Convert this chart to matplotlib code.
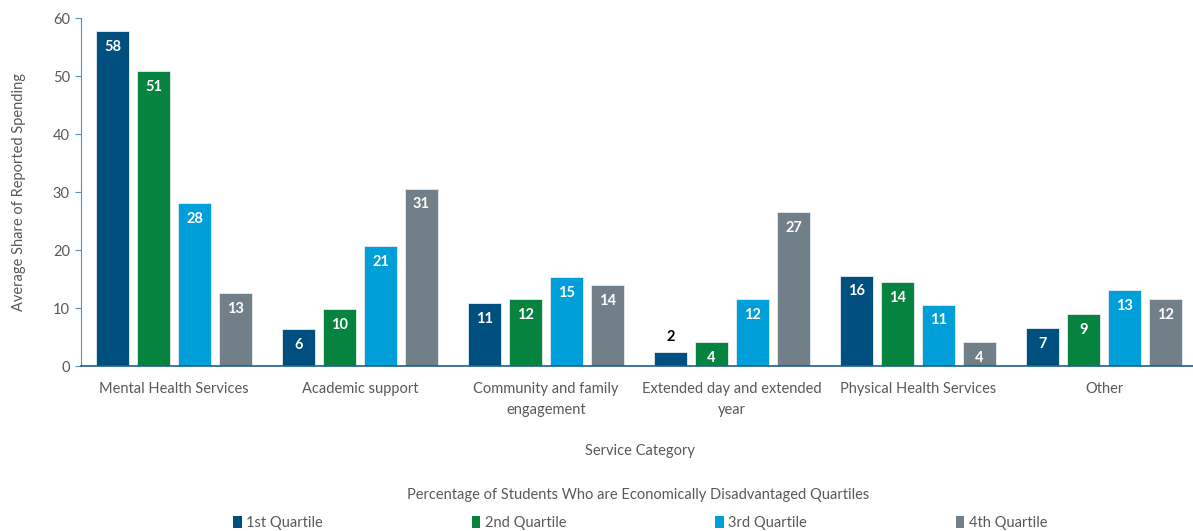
import matplotlib
matplotlib.use("Agg")
import matplotlib.pyplot as plt
from matplotlib.patches import Patch
import numpy as np

plt.rcParams['font.family'] = ['Lato', 'DejaVu Sans']

categories = [
    "Mental Health Services",
    "Academic support",
    "Community and family\nengagement",
    "Extended day and extended\nyear",
    "Physical Health Services",
    "Other",
]
series_names = ["1st Quartile", "2nd Quartile", "3rd Quartile", "4th Quartile"]
q1 = [57.8, 6.4, 10.8, 2.4, 15.6, 6.6]
q2 = [50.8, 9.9, 11.6, 4.1, 14.4, 9.0]
q3 = [28.1, 20.7, 15.4, 11.6, 10.6, 13.1]
q4 = [12.6, 30.6, 14.0, 26.6, 4.1, 11.6]
series_values = [q1, q2, q3, q4]
colors = ["#00507F", "#06843F", "#009FD9", "#717F89"]

y_ticks = [0, 10, 20, 30, 40, 50, 60]
y_label = "Average Share of Reported Spending"
x_label = "Service Category"
legend_title = "Percentage of Students Who are Economically Disadvantaged Quartiles"

fig = plt.figure(figsize=(11.93, 5.31), dpi=100)
# plot area runs a little past the right edge of the figure
ax = fig.add_axes([81 / 1193, 1 - 366 / 531, 1116 / 1193, 348 / 531])

x = np.arange(len(categories))
width = 0.175
pitch = 0.22
text_gray = "#595959"

for i, (vals, col) in enumerate(zip(series_values, colors)):
    pos = x + (i - 1.5) * pitch
    bars = ax.bar(pos, vals, width, color=col, edgecolor="#E6EEF3", linewidth=0.6,
                  label=series_names[i], zorder=2)
    for rect, v in zip(bars, vals):
        cx = rect.get_x() + rect.get_width() / 2
        txt = "{:.0f}".format(v)
        if v < 3:
            ax.annotate(txt, (cx, v), xytext=(0, 11), textcoords="offset points",
                        ha="center", va="center", color="black",
                        fontsize=10.5, fontweight="bold")
        else:
            ax.annotate(txt, (cx, v), xytext=(0, -11.5), textcoords="offset points",
                        ha="center", va="center", color="white",
                        fontsize=10.5, fontweight="bold")

ax.set_xlim(-0.5, len(categories) - 0.5)
ax.set_ylim(0, 60)
ax.set_yticks(y_ticks)
ax.set_xticks(x)
ax.set_xticklabels(categories, fontsize=10.5, color=text_gray, linespacing=1.6)
ax.tick_params(axis="x", length=0, pad=11.5)
ax.tick_params(axis="y", labelsize=10.5, labelcolor=text_gray, color="#5B8DB8",
               length=4, width=0.8, pad=4)

for side in ["top", "right"]:
    ax.spines[side].set_visible(False)
ax.spines["left"].set_color("#5B8DB8")
ax.spines["left"].set_linewidth(0.8)
ax.spines["bottom"].set_color("#1F5F8B")
ax.spines["bottom"].set_linewidth(1.2)

ax.set_ylabel(y_label, fontsize=10.5, color=text_gray, labelpad=19)
fig.text(640 / 1193, 1 - 451 / 531, x_label, ha="center", va="center",
         fontsize=10.5, color=text_gray)
fig.text(638 / 1193, 1 - 495 / 531, legend_title, ha="center", va="center",
         fontsize=10.5, color=text_gray)

handles = [Patch(facecolor=c, edgecolor="none") for c in colors]
leg = fig.legend(handles, series_names, loc="center",
                 bbox_to_anchor=(640 / 1193, 1 - 523 / 531), ncol=4, frameon=False,
                 handlelength=0.6, handleheight=0.9, handletextpad=0.3,
                 columnspacing=10.2, fontsize=10.5)
for t in leg.get_texts():
    t.set_color(text_gray)

fig.savefig("out.png", dpi=100)
